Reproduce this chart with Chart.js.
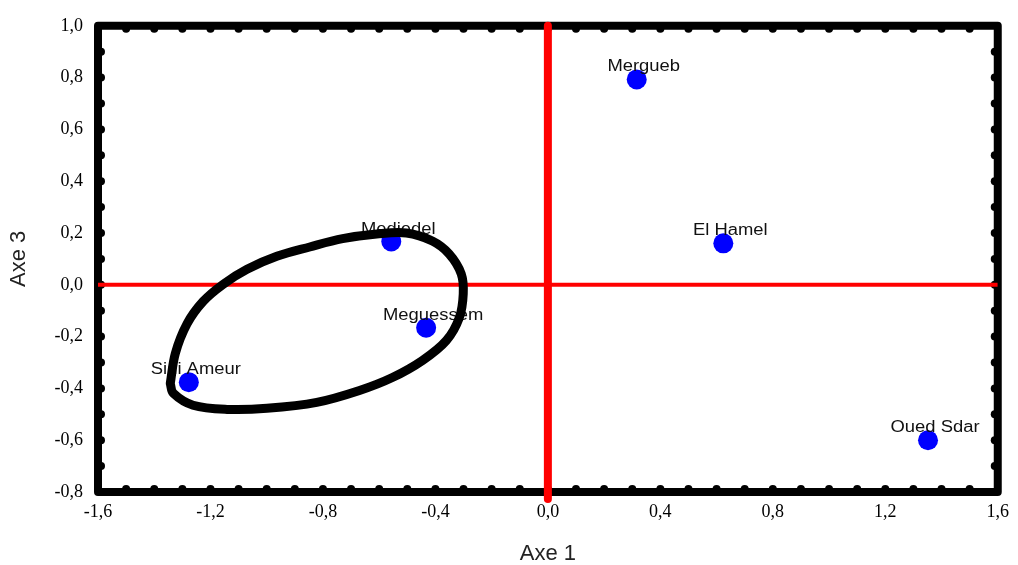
<!DOCTYPE html>
<html>
<head>
<meta charset="utf-8">
<script src="https://cdn.jsdelivr.net/npm/chart.js@4.4.1/dist/chart.umd.min.js"></script>
<style>
  html, body { margin: 0; padding: 0; background: #fff; }
  #wrap { width: 1018px; height: 565px; }
</style>
</head>
<body>
<div id="wrap"><canvas id="c"></canvas></div>
<script>
// sites and their coordinates on Axe 1 / Axe 3
const sites = ['Mergueb', 'El Hamel', 'Mediedel', 'Meguessem', 'Sidi Ameur', 'Oued Sdar'];
const axe1 = [0.316, 0.624, -0.557, -0.433, -1.277, 1.352];
const axe3 = [0.793, 0.160, 0.167, -0.166, -0.376, -0.600];

// tick labels
const xTicks = [-1.6, -1.2, -0.8, -0.4, 0, 0.4, 0.8, 1.2, 1.6];
const yTicks = [-0.8, -0.6, -0.4, -0.2, 0, 0.2, 0.4, 0.6, 0.8, 1.0];

// hand drawn loop round the group
const loopX = [-1.343, -1.332, -1.262, -1.141, -0.999, -0.822, -0.670, -0.553, -0.446, -0.361, -0.315, -0.301, -0.308,
               -0.351, -0.411, -0.503, -0.609, -0.730, -0.847, -0.964, -1.070, -1.155, -1.226, -1.283, -1.325, -1.343];
const loopY = [-0.381, -0.419, -0.465, -0.481, -0.477, -0.454, -0.408, -0.358, -0.292, -0.215, -0.127, -0.035, 0.042,
               0.119, 0.169, 0.200, 0.196, 0.178, 0.146, 0.110, 0.060, 0.002, -0.064, -0.150, -0.265, -0.381];

const fmt = v => v.toFixed(1).replace('.', ',');

// ------------------------
// Frame with dotted minor ticks
// ------------------------
const framePlugin = {
    id: 'frame',
    beforeDatasetsDraw(chart) {
        const { ctx, chartArea: a, scales: { x, y } } = chart;
        ctx.save();
        ctx.strokeStyle = '#000';
        ctx.lineWidth = 8;
        ctx.lineJoin = 'round';
        ctx.strokeRect(a.left, a.top, a.right - a.left, a.bottom - a.top);
        ctx.fillStyle = '#000';
        const dot = (px, py) => { ctx.beginPath(); ctx.arc(px, py, 4, 0, Math.PI * 2); ctx.fill(); };
        for (let i = 1; i < 32; i++) {
            const px = x.getPixelForValue(-1.6 + i * 0.1);
            dot(px, a.top + 3);
            dot(px, a.bottom - 3);
        }
        for (let i = 1; i < 18; i++) {
            const py = y.getPixelForValue(-0.8 + i * 0.1);
            dot(a.left + 3, py);
            dot(a.right - 3, py);
        }
        ctx.restore();
    }
};

// ------------------------
// Site names above the points
// ------------------------
const labelPlugin = {
    id: 'siteLabels',
    afterDatasetDraw(chart, args) {
        if (args.index !== 1) return;
        const { ctx } = chart;
        args.meta.data.forEach((pt, i) => {
            ctx.save();
            ctx.translate(pt.x + 7, pt.y - 8);
            ctx.scale(1.15, 1);
            ctx.font = '16px "Liberation Sans", Arial, sans-serif';
            ctx.fillStyle = '#111';
            ctx.textAlign = 'center';
            ctx.textBaseline = 'alphabetic';
            ctx.fillText(sites[i], 0, 0);
            ctx.restore();
        });
    }
};

const tickFont = { family: '"Liberation Serif", "Times New Roman", serif', size: 18 };
const titleFont = { family: '"Liberation Sans", Arial, sans-serif', size: 22, lineHeight: 1 };

new Chart(document.getElementById('c'), {
    type: 'scatter',
    data: {
        datasets: [
            {
                data: loopX.map((v, i) => ({ x: v, y: loopY[i] })),
                showLine: true,
                tension: 0.35,
                borderColor: '#000',
                borderWidth: 9,
                borderCapStyle: 'round',
                borderJoinStyle: 'round',
                pointRadius: 0,
                order: 0
            },
            {
                data: axe1.map((v, i) => ({ x: v, y: axe3[i] })),
                backgroundColor: '#0000ff',
                borderWidth: 0,
                pointRadius: 10,
                order: 1
            },
            {
                data: [{ x: 0, y: -0.827 }, { x: 0, y: 1.0 }],
                showLine: true,
                borderColor: '#ff0000',
                borderWidth: 8,
                borderCapStyle: 'round',
                pointRadius: 0,
                clip: false,
                order: 2
            },
            {
                data: [{ x: -1.6, y: 0 }, { x: 1.6, y: 0 }],
                showLine: true,
                borderColor: '#ff0000',
                borderWidth: 4,
                pointRadius: 0,
                order: 3
            }
        ]
    },
    options: {
        responsive: true,
        maintainAspectRatio: false,
        animation: false,
        layout: { padding: { top: 24, right: 17, bottom: 0, left: 0 } },
        plugins: { legend: { display: false }, tooltip: { enabled: false } },
        scales: {
            x: {
                type: 'linear',
                min: -1.6,
                max: 1.6,
                afterBuildTicks: s => { s.ticks = xTicks.map(v => ({ value: v })); },
                afterFit: s => { s.height = 73; },
                grid: { display: false, drawTicks: false },
                border: { display: false },
                ticks: { padding: 9, color: '#000', font: tickFont, callback: fmt, maxRotation: 0 },
                title: { display: true, text: 'Axe 1', color: '#222', font: titleFont, padding: { top: 0, bottom: 0 } }
            },
            y: {
                type: 'linear',
                min: -0.8,
                max: 1.0,
                afterBuildTicks: s => { s.ticks = yTicks.map(v => ({ value: v })); },
                afterFit: s => { s.width = 98; },
                grid: { display: false, drawTicks: false },
                border: { display: false },
                ticks: { padding: 15, color: '#000', font: tickFont, callback: fmt },
                title: { display: true, text: 'Axe 3', color: '#222', font: titleFont, padding: { top: 8, bottom: 0 } }
            }
        }
    },
    plugins: [framePlugin, labelPlugin]
});
</script>
</body>
</html>
